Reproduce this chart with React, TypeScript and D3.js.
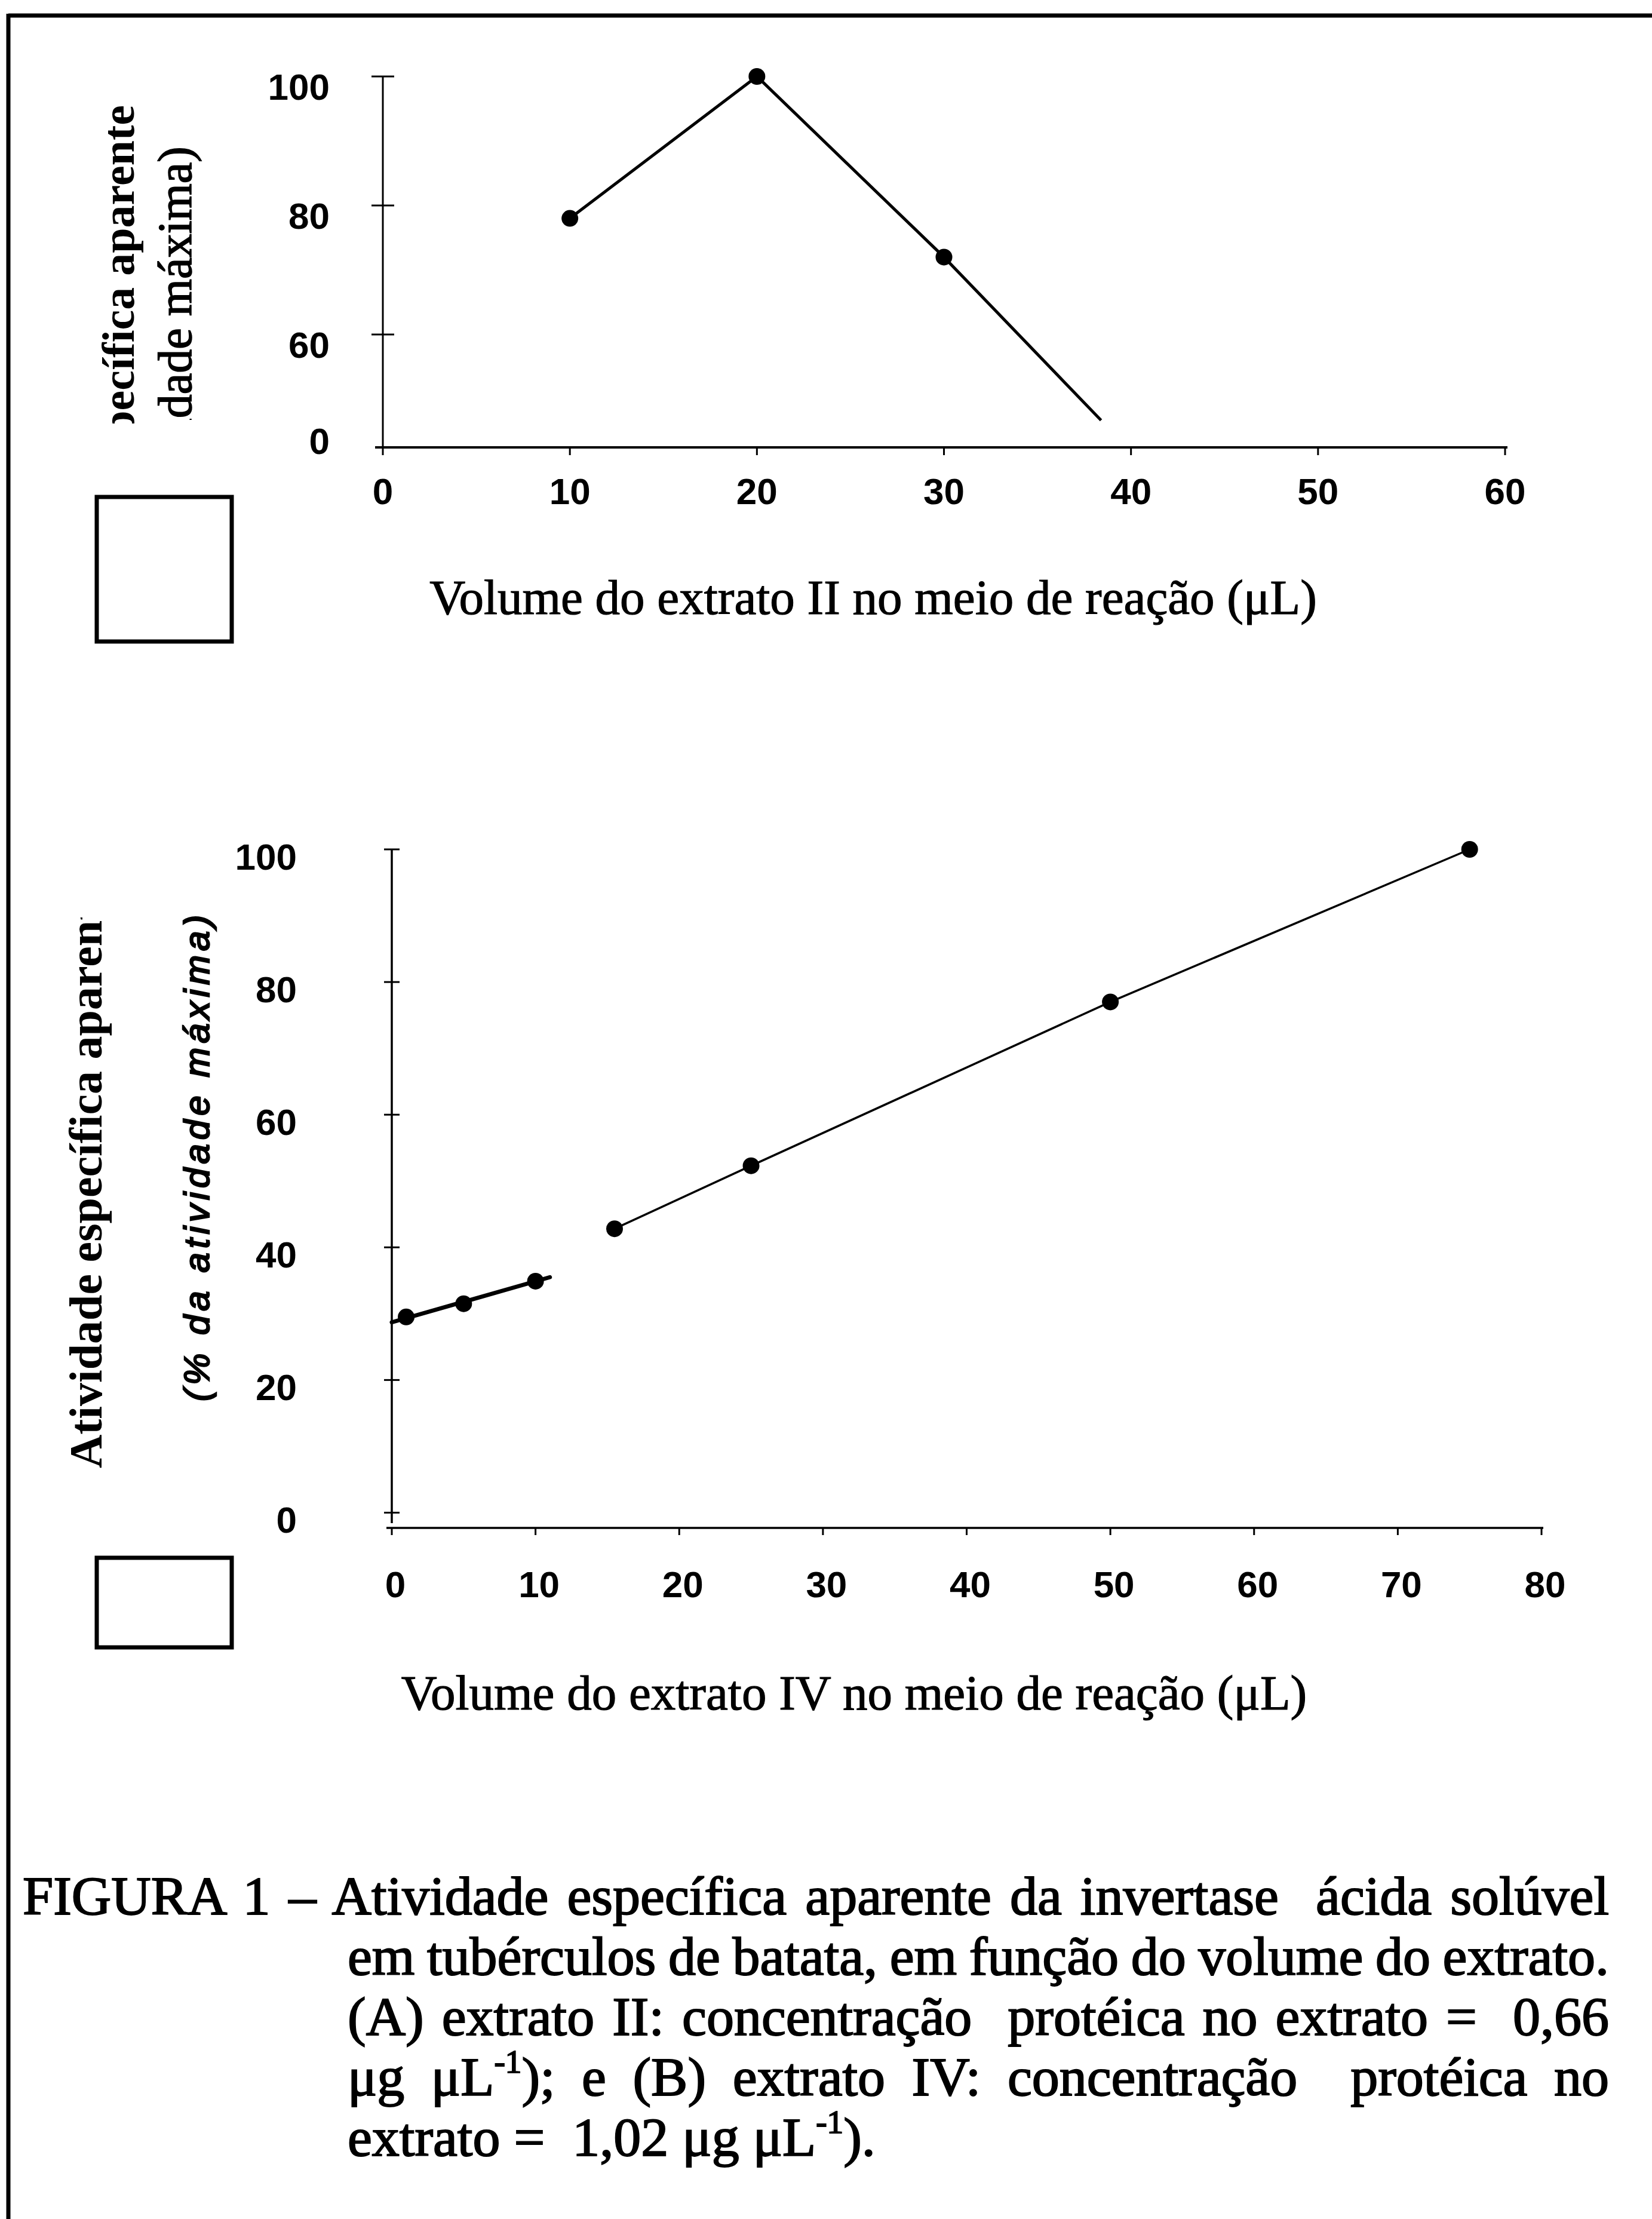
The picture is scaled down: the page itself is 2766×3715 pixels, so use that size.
import React, { useLayoutEffect, useRef, useState } from 'react';
import * as d3 from 'd3';

const W = 2766;
const H = 3715;

// ---------- Panel A: extrato II ----------
const volumeA = [10, 20, 30];
const activityA = [78, 100, 72];
const tailVolumeA = 38.4;
const tailActivityA = 46.7;
const xTicksA = [0, 10, 20, 30, 40, 50, 60];
const yTicksA = [60, 80, 100];
const yBreakLabelA = '0';
const xTitleA = 'Volume do extrato II no meio de reação (μL)';

// ---------- Panel B: extrato IV ----------
const volumeB = [1, 5, 10, 15.5, 25, 50, 75];
const activityB = [29.5, 31.5, 34.9, 42.8, 52.3, 77.0, 100];
const fitVolumeB = [0, 11];
const fitActivityB = [28.7, 35.5];
const xTicksB = [0, 10, 20, 30, 40, 50, 60, 70, 80];
const yTicksB = [0, 20, 40, 60, 80, 100];
const xTitleB = 'Volume do extrato IV no meio de reação (μL)';

const yTitle1 = 'Atividade específica aparente';
const yTitle2 = '(% da atividade máxima)';

const captionLines = [
  'FIGURA 1 – Atividade específica aparente da invertase  ácida solúvel',
  'em tubérculos de batata, em função do volume do extrato.',
  '(A) extrato II: concentração  protéica no extrato =  0,66',
];
const captionLine4a = 'μg μL';
const captionLine4b = '); e (B) extrato IV: concentração  protéica no';
const captionLine5a = 'extrato =  1,02 μg μL';
const captionLine5b = ').';
const superscript = '-1';

const serif = "'Liberation Serif', 'Times New Roman', serif";
const sans = "'Liberation Sans', Arial, sans-serif";

export default function App() {
  const xA = d3.scaleLinear().domain([0, 60]).range([641, 2520]);
  const yA = d3.scaleLinear().domain([42.5, 100]).range([749, 128]);
  const xB = d3.scaleLinear().domain([0, 80]).range([656, 2581]);
  const yB = d3.scaleLinear().domain([-2.3, 100]).range([2558, 1422]);

  const lineA = d3
    .line<[number, number]>()
    .x((d) => xA(d[0]))
    .y((d) => yA(d[1]));
  const lineB = d3
    .line<[number, number]>()
    .x((d) => xB(d[0]))
    .y((d) => yB(d[1]));

  const ptsA: [number, number][] = volumeA.map((v, i) => [v, activityA[i]]);
  const pathA = lineA([...ptsA, [tailVolumeA, tailActivityA]]) || '';
  const ptsB: [number, number][] = volumeB.map((v, i) => [v, activityB[i]]);
  const fitB = lineB(fitVolumeB.map((v, i) => [v, fitActivityB[i]] as [number, number])) || '';
  const thinB = lineB(ptsB.slice(3)) || '';

  const [yMinA] = yA.domain();
  const [yMinB] = yB.domain();

  const capX1 = 38;
  const capX2 = 582;
  const capRight = 2694;
  const capBase = 3205;
  const capStep = 101;
  const capFont = 92;

  const capRefs = useRef<(SVGTextElement | null)[]>([]);
  const [wordSp, setWordSp] = useState<number[]>([0, 0, 0, 0]);

  useLayoutEffect(() => {
    const targets = [capRight - capX1, capRight - capX2, capRight - capX2, capRight - capX2];
    const ws = targets.map((t, i) => {
      const el = capRefs.current[i];
      if (!el) return 0;
      const natural = el.getComputedTextLength();
      const txt = el.textContent || '';
      const spaces = (txt.match(/ /g) || []).length;
      return spaces ? (t - natural) / spaces : 0;
    });
    setWordSp(ws);
  }, []);

  const capStyle = (i: number) => ({ whiteSpace: 'pre' as const, wordSpacing: `${wordSp[i]}px` });

  return (
    <svg
      width={W}
      height={H}
      viewBox={`0 0 ${W} ${H}`}
      style={{ position: 'absolute', left: 0, top: 0, background: '#fff' }}
    >
      <defs>
        <clipPath id="clipA1">
          <rect x={0} y={0} width={W} height={709} />
        </clipPath>
        <clipPath id="clipA2">
          <rect x={0} y={0} width={W} height={703} />
        </clipPath>
        <clipPath id="clipB1">
          <rect x={0} y={1536} width={W} height={1200} />
        </clipPath>
      </defs>
      <rect x={0} y={0} width={W} height={H} fill="#fff" />

      {/* page frame */}
      <line x1={14} y1={26} x2={W} y2={26} stroke="#000" strokeWidth={7} />
      <line x1={14} y1={23} x2={14} y2={H} stroke="#000" strokeWidth={7} />

      {/* ================= Panel A ================= */}
      <g>
        <line x1={xA(0)} y1={yA(100)} x2={xA(0)} y2={yA(yMinA)} stroke="#000" strokeWidth={3} />
        <line x1={628} y1={yA(yMinA)} x2={xA(60) + 4} y2={yA(yMinA)} stroke="#000" strokeWidth={4} />
        {yTicksA.map((t) => (
          <line key={`yta${t}`} x1={xA(0) - 19} x2={xA(0) + 19} y1={yA(t)} y2={yA(t)} stroke="#000" strokeWidth={3} />
        ))}
        {xTicksA.map((t) => (
          <line key={`xta${t}`} x1={xA(t)} x2={xA(t)} y1={yA(yMinA)} y2={yA(yMinA) + 13} stroke="#000" strokeWidth={3} />
        ))}
        {yTicksA.map((t) => (
          <text
            key={`yla${t}`}
            x={552}
            y={yA(t) + 17}
            textAnchor="end"
            dominantBaseline="central"
            fontFamily={sans}
            fontWeight="bold"
            fontSize={62}
          >
            {t}
          </text>
        ))}
        <text
          x={552}
          y={yA(yMinA) - 11}
          textAnchor="end"
          dominantBaseline="central"
          fontFamily={sans}
          fontWeight="bold"
          fontSize={62}
        >
          {yBreakLabelA}
        </text>
        {xTicksA.map((t) => (
          <text
            key={`xla${t}`}
            x={xA(t)}
            y={yA(yMinA) + 73}
            textAnchor="middle"
            dominantBaseline="central"
            fontFamily={sans}
            fontWeight="bold"
            fontSize={62}
          >
            {t}
          </text>
        ))}

        <path d={pathA} fill="none" stroke="#000" strokeWidth={5} strokeLinejoin="round" />
        {ptsA.map((d, i) => (
          <circle key={`pa${i}`} cx={xA(d[0])} cy={yA(d[1])} r={14} fill="#000" />
        ))}

        <g clipPath="url(#clipA1)">
          <text
            transform="translate(224,176) rotate(-90)"
            textAnchor="end"
            fontFamily={serif}
            fontWeight="bold"
            fontSize={76}
          >
            {yTitle1}
          </text>
        </g>
        <g clipPath="url(#clipA2)">
          <text
            transform="translate(320,245) rotate(-90)"
            textAnchor="end"
            fontFamily={serif}
            fontSize={80}
            stroke="#000"
            strokeWidth={1.5}
          >
            {yTitle2}
          </text>
        </g>
        <text x={1462} y={1028} textAnchor="middle" fontFamily={serif} fontSize={83} stroke="#000" strokeWidth={1.2}>
          {xTitleA}
        </text>
        <rect x={162} y={832} width={226} height={242} fill="#fff" stroke="#000" strokeWidth={7} />
      </g>

      {/* ================= Panel B ================= */}
      <g>
        <line x1={xB(0)} y1={yB(100)} x2={xB(0)} y2={yB(yMinB) - 8} stroke="#000" strokeWidth={3.5} />
        <line x1={647} y1={yB(yMinB)} x2={xB(80) + 3} y2={yB(yMinB)} stroke="#000" strokeWidth={3.5} />
        {yTicksB.map((t) => (
          <line key={`ytb${t}`} x1={xB(0) - 13} x2={xB(0) + 13} y1={yB(t)} y2={yB(t)} stroke="#000" strokeWidth={3} />
        ))}
        {xTicksB.map((t) => (
          <line key={`xtb${t}`} x1={xB(t)} x2={xB(t)} y1={yB(yMinB)} y2={yB(yMinB) + 12} stroke="#000" strokeWidth={3} />
        ))}
        {yTicksB.map((t) => (
          <text
            key={`ylb${t}`}
            x={497}
            y={yB(t) + 12}
            textAnchor="end"
            dominantBaseline="central"
            fontFamily={sans}
            fontWeight="bold"
            fontSize={62}
          >
            {t}
          </text>
        ))}
        {xTicksB.map((t) => (
          <text
            key={`xlb${t}`}
            x={xB(t) + 6}
            y={yB(yMinB) + 94}
            textAnchor="middle"
            dominantBaseline="central"
            fontFamily={sans}
            fontWeight="bold"
            fontSize={62}
          >
            {t}
          </text>
        ))}

        <path d={fitB} fill="none" stroke="#000" strokeWidth={7} strokeLinecap="round" />
        <path d={thinB} fill="none" stroke="#000" strokeWidth={3.5} />
        {ptsB.map((d, i) => (
          <circle key={`pb${i}`} cx={xB(d[0])} cy={yB(d[1])} r={14} fill="#000" />
        ))}

        <g clipPath="url(#clipB1)">
          <text
            transform="translate(170,2458) rotate(-90)"
            textAnchor="start"
            fontFamily={serif}
            fontWeight="bold"
            fontSize={78}
          >
            {yTitle1}
          </text>
        </g>
        <text
          transform="translate(350,2346) rotate(-90)"
          textAnchor="start"
          fontFamily={sans}
          fontStyle="italic"
          fontSize={60}
          letterSpacing={7}
          stroke="#000"
          strokeWidth={2.5}
        >
          {yTitle2}
        </text>
        <text x={1430} y={2862} textAnchor="middle" fontFamily={serif} fontSize={83} stroke="#000" strokeWidth={1.2}>
          {xTitleB}
        </text>
        <rect x={162} y={2608} width={226} height={150} fill="#fff" stroke="#000" strokeWidth={7} />
      </g>

      {/* ================= Caption ================= */}
      <g fontFamily={serif} fontSize={capFont} stroke="#000" strokeWidth={2}>
        <text ref={(el) => { capRefs.current[0] = el; }} x={capX1} y={capBase} style={capStyle(0)}>
          {captionLines[0]}
        </text>
        <text ref={(el) => { capRefs.current[1] = el; }} x={capX2} y={capBase + capStep} style={capStyle(1)}>
          {captionLines[1]}
        </text>
        <text ref={(el) => { capRefs.current[2] = el; }} x={capX2} y={capBase + capStep * 2} style={capStyle(2)}>
          {captionLines[2]}
        </text>
        <text ref={(el) => { capRefs.current[3] = el; }} x={capX2} y={capBase + capStep * 3} style={capStyle(3)}>
          {captionLine4a}
          <tspan fontSize={capFont * 0.6} dy={-38}>{superscript}</tspan>
          <tspan dy={38}>{captionLine4b}</tspan>
        </text>
        <text x={capX2} y={capBase + capStep * 4} style={{ whiteSpace: 'pre' }}>
          {captionLine5a}
          <tspan fontSize={capFont * 0.6} dy={-38}>{superscript}</tspan>
          <tspan dy={38}>{captionLine5b}</tspan>
        </text>
      </g>
    </svg>
  );
}
